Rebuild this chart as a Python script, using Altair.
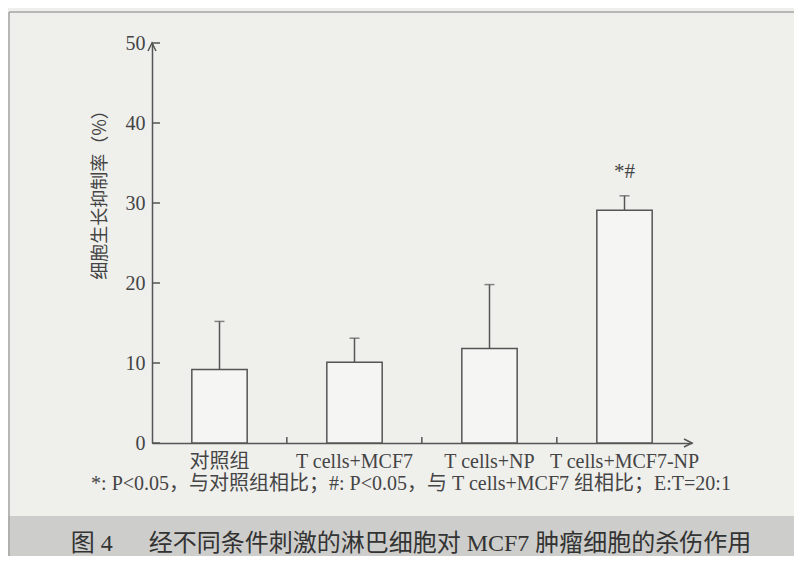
import altair as alt
import pandas as pd

# ---- data ----
categories = ["对照组", "T cells+MCF7", "T cells+NP", "T cells+MCF7-NP"]
means = [9.2, 10.1, 11.8, 29.1]
sd = [6.0, 3.0, 8.0, 1.8]
sig_marks = ["", "", "", "*#"]
y_ticks = [0, 10, 20, 30, 40, 50]

footnote = "*: P<0.05，与对照组相比；#: P<0.05，与 T cells+MCF7 组相比；E:T=20:1"
caption = "图 4\u2003\u2002经不同条件刺激的淋巴细胞对 MCF7 肿瘤细胞的杀伤作用"
y_title = "细胞生长抑制率（%）"

df = pd.DataFrame({"group": categories, "mean": means, "sd": sd, "sig": sig_marks})
df["upper"] = df["mean"] + df["sd"]
tick_df = pd.DataFrame({"t": y_ticks})
bound_df = pd.DataFrame({"group": categories[1:]})

# ---- styling ----
W, H = 540, 400
PAD = {"left": 144, "top": 35, "right": 102, "bottom": 113}
INK = "#555555"
TXT = "#444444"
PAPER = "#efefec"
BAND = "#cdcdcb"
SERIF = "Liberation Serif, Noto Sans CJK SC"
CJK = "Noto Sans CJK SC"

xscale = alt.Scale(domain=categories, paddingInner=0.59, paddingOuter=0.295)
yscale = alt.Scale(domain=[0, 50], nice=False)

base = alt.Chart(df)
one = alt.Chart(alt.Data(values=[{}]))

x_noaxis = alt.X("group:N", scale=xscale, sort=categories, axis=None)

# main bars with bottom x axis (labels) and left y axis (labels, title)
bars = base.mark_bar(fill="#f5f5f3", stroke=INK, strokeWidth=1.5).encode(
    x=alt.X("group:N", scale=xscale, sort=categories,
            axis=alt.Axis(title=None, labelAngle=0, labelFont=SERIF, labelFontSize=20,
                          labelColor=TXT, ticks=False, tickSize=0, labelPadding=8,
                          domainColor=INK, domainWidth=1.5, grid=False)),
    y=alt.Y("mean:Q", scale=yscale,
            axis=alt.Axis(values=y_ticks, title=y_title, titleFont=CJK, titleFontSize=18,
                          titleFontWeight="normal", titleColor=TXT, titleAngle=270,
                          titleX=-52, titleY=147, titleAlign="center", titleBaseline="middle",
                          labelFont=SERIF, labelFontSize=20, labelColor=TXT,
                          ticks=False, tickSize=0, labelPadding=7,
                          domainColor=INK, domainWidth=1.5, grid=False)),
)

# inward-pointing tick marks on both axes
y_inner = alt.Chart(tick_df).mark_rule(color=INK, strokeWidth=1.5).encode(
    y=alt.Y("t:Q", scale=yscale, axis=None),
    x=alt.value(0), x2=alt.value(8),
)
x_inner = alt.Chart(bound_df).mark_rule(color=INK, strokeWidth=1.5, xOffset=-40).encode(
    x=alt.X("group:N", scale=xscale, sort=categories, axis=None, bandPosition=0),
    y=alt.value(H), y2=alt.value(H - 6),
)

err = base.mark_rule(color=INK, strokeWidth=1.5).encode(
    x=x_noaxis,
    y=alt.Y("mean:Q", scale=yscale, axis=None),
    y2="upper:Q",
)

caps = base.mark_tick(color=INK, thickness=1.5, size=10, orient="horizontal").encode(
    x=x_noaxis,
    y=alt.Y("upper:Q", scale=yscale, axis=None),
)

sig = base.mark_text(font=SERIF, fontSize=21, color=TXT, dy=-24, baseline="middle").encode(
    x=x_noaxis,
    y=alt.Y("upper:Q", scale=yscale, axis=None),
    text="sig:N",
)

arrow_y = one.mark_point(shape="M-0.5,1L0,0L0.5,1", size=256, filled=False,
                         stroke=INK, strokeWidth=1.5, opacity=1).encode(
    x=alt.value(0),
    y=alt.YDatum(50, scale=yscale, axis=None),
)
arrow_x = one.mark_point(shape="M-1,-0.5L0,0L-1,0.5", size=256, filled=False,
                         stroke=INK, strokeWidth=1.5, opacity=1).encode(
    x=alt.value(W),
    y=alt.YDatum(0, scale=yscale, axis=None),
)

# page decoration: grey caption band, frame lines, footnote and caption
band = one.mark_rect(color=BAND).encode(
    x=alt.value(-PAD["left"]), x2=alt.value(W + PAD["right"]),
    y=alt.value(473), y2=alt.value(H + PAD["bottom"]),
)
frame_left = one.mark_rule(color="#a5a5a5", strokeWidth=1.5).encode(
    x=alt.value(-PAD["left"] + 1), y=alt.value(-31), y2=alt.value(H + PAD["bottom"]),
)
frame_top = one.mark_rule(color="#a5a5a5", strokeWidth=1.5).encode(
    x=alt.value(-PAD["left"] + 1), x2=alt.value(W + PAD["right"]), y=alt.value(-31),
)
foot = one.mark_text(font=SERIF, fontSize=20, color=TXT, align="center", baseline="middle").encode(
    x=alt.value(259), y=alt.value(441), text=alt.value(footnote),
)
cap = one.mark_text(font=SERIF, fontSize=24, color="#333333", align="center", baseline="middle").encode(
    x=alt.value(259), y=alt.value(501), text=alt.value(caption),
)

chart = alt.layer(
    band, frame_left, frame_top, bars, y_inner, x_inner, err, caps, sig,
    arrow_y, arrow_x, foot, cap
).resolve_axis(x="independent", y="independent").properties(
    width=W, height=H,
    autosize=alt.AutoSizeParams(type="none"),
    padding=PAD,
    background=PAPER,
).configure_view(stroke=None)

chart.save("out.html", embed_options={"renderer": "svg", "actions": False})
